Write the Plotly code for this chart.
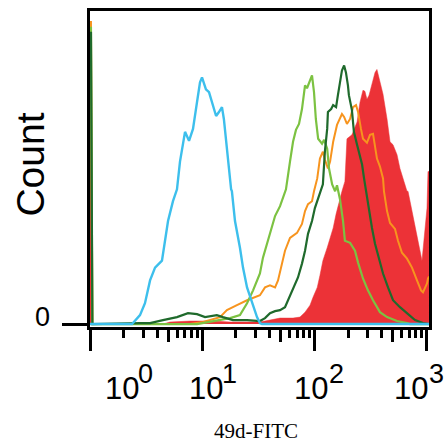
import plotly.graph_objects as go

# ---- data (fluorescence intensity, count) ----
cyan_x = [1, 2.37, 2.79, 3.09, 3.43, 3.80, 4.38, 4.66, 4.96, 5.49, 5.96, 6.34, 6.74, 7.03, 7.63, 8.28, 8.99,
          9.56, 9.96, 10.8, 11.5, 12.5, 13.3, 14.1, 15.0, 15.6, 16.6, 17.3, 18.1, 18.4, 19.6, 21.7, 23.1,
          25.1, 27.8, 30.8, 32.7, 34.1, 1050]
cyan_y = [0, 0, 9, 21, 44, 57, 64, 84, 104, 124, 136, 164, 184, 194, 185, 197, 224, 244, 249, 237, 234,
          221, 210, 214, 219, 207, 177, 151, 136, 134, 104, 77, 57, 37, 21, 7, 1, 0, 0]

lgreen_x = [1.02, 1.05, 8.99, 17.7, 21.7, 25.1, 28.4, 32.7, 34.8, 38.6, 41.9, 44.6, 49.4, 52.5, 55.8, 60.6,
            64.5, 68.5, 72.9, 77.5, 82.5, 85.9, 91.4, 95.2, 99.2, 103, 108, 117, 122, 130, 135, 144, 153,
            159, 169, 180, 187, 208, 230, 245, 271, 300, 333, 384, 444, 545, 669, 711, 1050]
lgreen_y = [300, 0, 0, 6, 9, 21, 34, 51, 67, 84, 97, 109, 119, 127, 136, 164, 184, 196, 202, 217, 241, 238,
            247, 251, 234, 207, 187, 182, 186, 177, 157, 141, 134, 140, 126, 104, 84, 82, 74, 62, 46, 34, 24,
            12, 7, 3, 1, 0, 0]

orange_x = [1.02, 1.05, 7.79, 10.2, 14.4, 16.6, 20.4, 25.1, 32.7, 36.3, 40.2, 44.6, 47.4, 51.4, 54.7, 60.6,
            70.0, 77.5, 82.5, 87.7, 95.2, 99.2, 106, 112, 119, 124, 132, 138, 147, 159, 176, 184, 195, 208,
            221, 235, 245, 260, 271, 294, 313, 333, 347, 361, 384, 409, 417, 444, 472, 523, 556, 603, 669,
            741, 821, 892, 929, 1008, 1029, 1050]
orange_y = [306, 0, 0, 2, 7, 14, 19, 24, 29, 37, 39, 37, 44, 61, 74, 87, 92, 101, 114, 121, 124, 134, 147,
            167, 174, 166, 157, 164, 184, 201, 212, 209, 202, 207, 219, 221, 214, 197, 187, 183, 191, 192,
            181, 167, 159, 147, 134, 114, 102, 96, 84, 72, 66, 57, 44, 34, 32, 41, 46, 48]

dgreen_x = [1.02, 1.05, 2.79, 3.43, 4.47, 5.96, 7.47, 8.99, 10.6, 13.5, 15.3, 18.8, 25.1, 32.7, 36.3, 40.2,
            44.6, 49.4, 54.7, 58.2, 64.5, 71.4, 77.5, 82.5, 87.7, 95.2, 101, 108, 112, 119, 124, 130, 132,
            141, 147, 156, 162, 169, 176, 184, 191, 199, 203, 216, 225, 240, 250, 266, 277, 288, 300, 326,
            347, 384, 409, 453, 502, 579, 669, 788, 929, 1029, 1050]
dgreen_y = [295, 0, 1, 1, 4, 7, 11, 10, 7, 9, 7, 4, 4, 3, 6, 11, 13, 14, 17, 24, 34, 47, 61, 74, 91, 104,
            117, 127, 134, 141, 174, 197, 214, 217, 221, 219, 231, 244, 256, 261, 254, 241, 231, 216, 194,
            181, 174, 161, 147, 134, 121, 97, 81, 64, 51, 37, 24, 17, 11, 4, 1, 0, 0]

red_x = [1, 1.04, 4.47, 5.16, 7.79, 12.5, 17.7, 32.7, 40.2, 49.4, 64.5, 74.4, 82.5, 91.4, 97.2, 106, 112,
         119, 130, 138, 147, 156, 166, 176, 187, 195, 216, 240, 255, 271, 282, 294, 307, 326, 347, 361, 384,
         409, 444, 472, 502, 545, 579, 616, 669, 683, 757, 838, 910, 968, 1008, 1029, 1050]
red_y = [290, 0, 0, 2, 3, 3, 2, 2, 4, 6, 6, 7, 12, 19, 27, 37, 49, 64, 77, 87, 97, 111, 124, 134, 144, 187,
         191, 204, 224, 236, 235, 227, 231, 241, 254, 257, 246, 232, 207, 184, 181, 171, 157, 146, 134, 134,
         107, 84, 64, 94, 117, 154, 154]

major_ticks = [1, 10, 100, 1000]
mid_ticks = [5, 50, 500]
minor_ticks = [2, 3, 4, 6, 7, 8, 9, 20, 30, 40, 60, 70, 80, 90, 200, 300, 400, 600, 700, 800, 900]
exponents = ["0", "1", "2", "3"]

RED = "#ec3237"
ORANGE = "#f7941e"
LGREEN = "#7cc242"
DGREEN = "#1f6a2c"
CYAN = "#3dbfec"

fig = go.Figure()
fig.add_trace(go.Scatter(x=red_x, y=red_y, mode="lines", fill="tozeroy", fillcolor=RED,
                         line=dict(color=RED, width=0.5)))
fig.add_trace(go.Scatter(x=orange_x, y=orange_y, mode="lines", line=dict(color=ORANGE, width=2)))
fig.add_trace(go.Scatter(x=lgreen_x, y=lgreen_y, mode="lines", line=dict(color=LGREEN, width=2.2)))
fig.add_trace(go.Scatter(x=dgreen_x, y=dgreen_y, mode="lines", line=dict(color=DGREEN, width=2.2)))
fig.add_trace(go.Scatter(x=cyan_x, y=cyan_y, mode="lines", line=dict(color=CYAN, width=2.4),
                         xaxis="x2", yaxis="y"))

# plot-area pixel frame
PL, PR, PT, PB = 90, 429, 8, 327
W = H = 445


def px(x):
    return (x - PL) / (PR - PL)


def py(y):
    return (PB - y) / (PB - PT)


xr = [0, 3.0214]
fig.update_layout(
    width=W, height=H,
    margin=dict(l=PL, r=W - PR, t=PT, b=H - PB),
    paper_bgcolor="white", plot_bgcolor="white",
    showlegend=False,
    xaxis=dict(type="log", range=xr, showgrid=False, zeroline=False,
               showline=True, linecolor="black", linewidth=3, mirror=True,
               ticks="outside", tickvals=major_ticks, ticklen=21, tickwidth=3, tickcolor="black",
               showticklabels=False,
               minor=dict(ticks="outside", tickvals=minor_ticks, ticklen=8, tickwidth=2.5,
                          tickcolor="black", showgrid=False)),
    xaxis2=dict(type="log", range=xr, overlaying="x", anchor="y", side="bottom",
                showgrid=False, zeroline=False, showline=False,
                ticks="outside", tickvals=mid_ticks, ticklen=14, tickwidth=2.5, tickcolor="black",
                showticklabels=False),
    yaxis=dict(range=[-3, 316], showgrid=False, zeroline=False,
               showline=True, linecolor="black", linewidth=3, mirror=True,
               ticks="outside", tickvals=[0], ticklen=25, tickwidth=2.5,
               tickcolor="black", showticklabels=False),
)

SANS = "Liberation Sans, Arial, sans-serif"
base_cx = [122, 206, 311, 411]
exp_cx = [145, 229, 336, 436]
ann = []
for bx, ex, e in zip(base_cx, exp_cx, exponents):
    ann.append(dict(x=px(bx), y=py(389), xref="paper", yref="paper", text="10", showarrow=False,
                    xanchor="center", yanchor="middle", font=dict(family=SANS, size=31, color="black")))
    ann.append(dict(x=px(ex), y=py(374), xref="paper", yref="paper", text=e, showarrow=False,
                    xanchor="center", yanchor="middle", font=dict(family=SANS, size=27, color="black")))
# y tick label "0"
ann.append(dict(x=px(42), y=py(317), xref="paper", yref="paper", text="0", showarrow=False,
                xanchor="center", yanchor="middle", font=dict(family=SANS, size=27, color="black")))
ann.append(dict(x=px(256), y=py(432), xref="paper", yref="paper", text="49d-FITC", showarrow=False,
                xanchor="center", yanchor="middle",
                font=dict(family="Liberation Serif, Times New Roman, serif", size=21, color="black")))
ann.append(dict(x=px(31), y=py(163), xref="paper", yref="paper", text="Count", showarrow=False,
                textangle=-90, xanchor="center", yanchor="middle",
                font=dict(family=SANS, size=39, color="black")))
fig.update_layout(annotations=ann)

fig.write_html("out.html", config={"displayModeBar": False},
               post_script="document.body.style.margin='0';document.body.style.overflow='hidden';")
